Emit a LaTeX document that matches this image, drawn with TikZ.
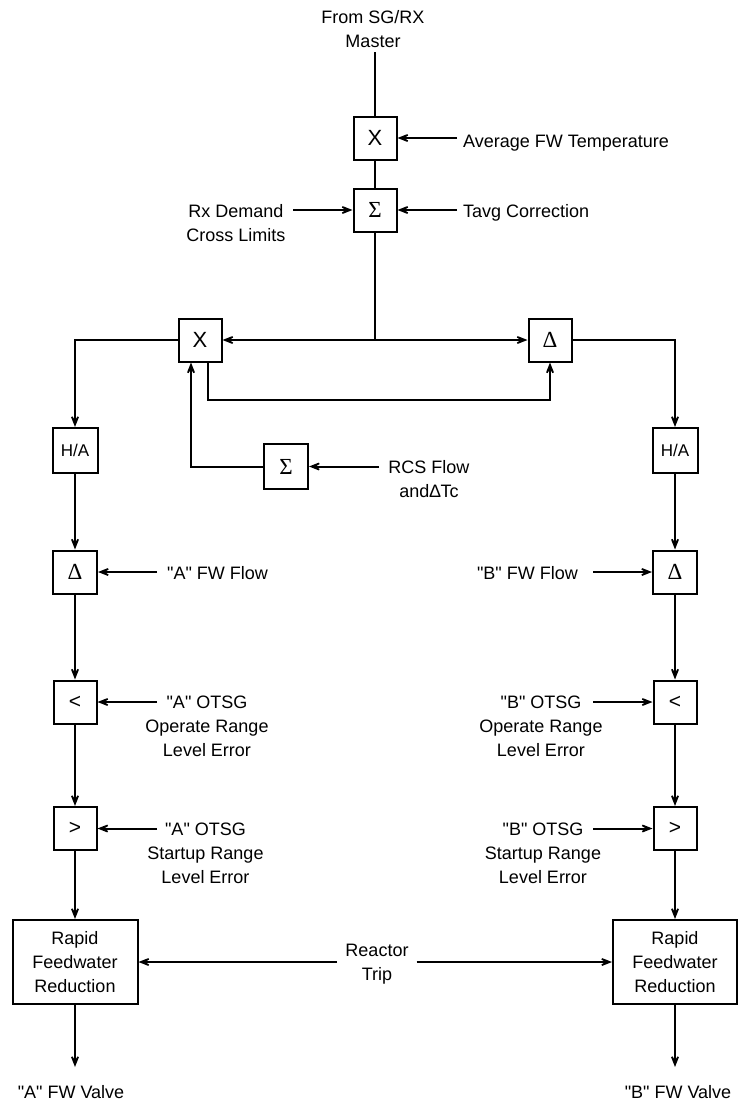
\documentclass[tikz,border=0pt]{standalone}
\usepackage{fontspec}
\setmainfont{Liberation Sans}
\newfontfamily\lsans{Liberation Sans}
\newfontfamily\serifsym{Liberation Serif}
\usetikzlibrary{arrows.meta}
\begin{document}
\begin{tikzpicture}[x=1pt,y=-1pt,
  every node/.style={inner sep=0pt},
  box/.style={draw, line width=2pt, minimum width=43pt, minimum height=43pt, font=\lsans\fontsize{22}{24}\selectfont},
  sym/.style={box, font=\fontsize{23}{24}\selectfont\serifsym},
  habox/.style={box, minimum width=45pt, minimum height=45pt, font=\lsans\fontsize{17}{20}\selectfont},
  bigbox/.style={draw, line width=2pt, minimum width=125pt, minimum height=84pt, align=center, font=\lsans\fontsize{18}{24}\selectfont},
  lab/.style={align=center, font=\lsans\fontsize{18}{24}\selectfont},
  one/.style={font=\lsans\fontsize{18}{24}\selectfont, text height=12.9pt, text depth=0pt},
  ln/.style={line width=2pt},
  arr/.style={line width=2pt, -{Stealth[length=19pt,width=15pt,inset=12.5pt]}},
]
\useasboundingbox (0,0) rectangle (738,1106);

% top chain
\node[lab, anchor=north] (from) at (373,10) {From SG/RX\\Master};
\coordinate (top) at (375,52);
\node[box] (mx1) at (375,138) {X};
\node[sym] (sum1) at (375,210) {Σ};
\draw[ln] (top) -- (mx1);
\draw[ln] (mx1) -- (sum1);

\node[one, anchor=west] (avg) at (463,141) {Average FW Temperature};
\coordinate (avgA) at (457,138);
\draw[arr] (avgA) -- (mx1);

\node[one, anchor=west] (tavg) at (463,211) {Tavg Correction};
\coordinate (tavgA) at (457,210);
\draw[arr] (tavgA) -- (sum1);

\node[lab, anchor=north] (rx) at (236,204) {Rx Demand\\Cross Limits};
\coordinate (rxA) at (293,210);
\draw[arr] (rxA) -- (sum1);

% split
\coordinate (j) at (375,340);
\draw[ln] (sum1) -- (j);
\node[box] (mx2) at (200,340) {X};
\node[sym] (dl1) at (550,340) {Δ};
\draw[arr] (j) -- (mx2);
\draw[arr] (j) -- (dl1);

\node[habox] (haA) at (75,450.5) {H/A};
\node[habox] (haB) at (675,450.5) {H/A};
\draw[arr] (mx2) -| (haA);
\draw[arr] (dl1) -| (haB);

\coordinate (c1) at (208,400);
\draw[arr] (mx2.south -| c1) -- (c1) -| (dl1.south);

\node[sym, minimum width=44pt, minimum height=45pt] (sum2) at (286,466.5) {Σ};
\coordinate (c2) at (191,466.5);
\draw[arr] (sum2) -- (c2) -- (mx2.south -| c2);
\node[lab, anchor=north] (rcs) at (429,460) {RCS Flow\\and∆Tc};
\coordinate (rcsA) at (379,466.5);
\draw[arr] (rcsA) -- (sum2);

% column A
\node[sym, minimum width=44pt] (dA) at (75,572) {Δ};
\node[box, font=\lsans\fontsize{21}{24}\selectfont] (ltA) at (75,702) {<};
\node[box, font=\lsans\fontsize{21}{24}\selectfont] (gtA) at (75,828.5) {>};
\node[bigbox] (rfA) at (75,962) {Rapid\\Feedwater\\Reduction};
\draw[arr] (haA) -- (dA);
\draw[arr] (dA) -- (ltA);
\draw[arr] (ltA) -- (gtA);
\draw[arr] (gtA) -- (rfA);
\coordinate (vAe) at (75,1067);
\draw[arr] (rfA) -- (vAe);
\node[one] (valA) at (71,1092) {"A" FW Valve};

\node[one, anchor=west] (fwA) at (167,573) {"A" FW Flow};
\coordinate (fwAa) at (157,572);
\draw[arr] (fwAa) -- (dA);
\node[lab, anchor=north] (opA) at (207,696) {"A" OTSG\\Operate Range\\Level Error};
\coordinate (opAa) at (157,702);
\draw[arr] (opAa) -- (ltA);
\node[lab, anchor=north] (stA) at (205.5,822.5) {"A" OTSG\\Startup Range\\Level Error};
\coordinate (stAa) at (157,828.5);
\draw[arr] (stAa) -- (gtA);

% column B
\node[sym, minimum width=44pt] (dB) at (675,572) {Δ};
\node[box, font=\lsans\fontsize{21}{24}\selectfont] (ltB) at (675,702) {<};
\node[box, font=\lsans\fontsize{21}{24}\selectfont] (gtB) at (675,828.5) {>};
\node[bigbox, minimum width=124pt] (rfB) at (675,962) {Rapid\\Feedwater\\Reduction};
\draw[arr] (haB) -- (dB);
\draw[arr] (dB) -- (ltB);
\draw[arr] (ltB) -- (gtB);
\draw[arr] (gtB) -- (rfB);
\coordinate (vBe) at (675,1067);
\draw[arr] (rfB) -- (vBe);
\node[one] (valB) at (678,1092) {"B" FW Valve};

\node[one, anchor=east] (fwB) at (578,573) {"B" FW Flow};
\coordinate (fwBa) at (593,572);
\draw[arr] (fwBa) -- (dB);
\node[lab, anchor=north] (opB) at (541,696) {"B" OTSG\\Operate Range\\Level Error};
\coordinate (opBa) at (593,702);
\draw[arr] (opBa) -- (ltB);
\node[lab, anchor=north] (stB) at (543,822.5) {"B" OTSG\\Startup Range\\Level Error};
\coordinate (stBa) at (593,828.5);
\draw[arr] (stBa) -- (gtB);

% reactor trip
\node[lab] (rt) at (377,964) {Reactor\\Trip};
\coordinate (rtL) at (337,962);
\coordinate (rtR) at (416.5,962);
\draw[arr] (rtL) -- (rfA);
\draw[arr] (rtR) -- (rfB);
\end{tikzpicture}
\end{document}
